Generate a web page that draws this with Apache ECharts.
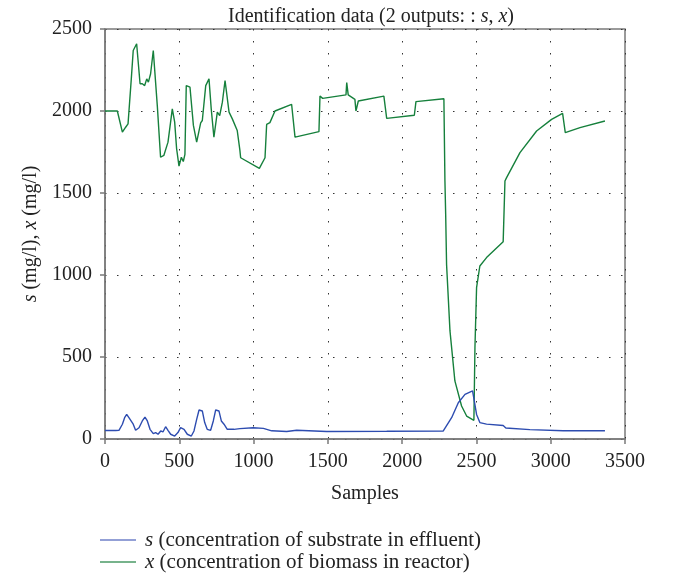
<!DOCTYPE html>
<html>
<head>
<meta charset="utf-8">
<script src="https://cdn.jsdelivr.net/npm/echarts@6/dist/echarts.min.js"></script>
<style>
  html, body { margin: 0; padding: 0; background: #fff; }
  #chart { width: 673px; height: 581px; }
</style>
</head>
<body>
<div id="chart"></div>
<script>
// Substrate concentration in effluent, s (mg/l)
const substrateSamples = [0, 72, 83, 94, 117, 132, 146, 161, 173, 190, 206, 229, 251, 269, 285, 303, 325, 341, 357, 375, 390, 408, 424, 442, 469, 491, 509, 532, 554, 581, 599, 617, 633, 655, 671, 688, 711, 729, 745, 767, 783, 801, 823, 868, 908, 998, 1066, 1122, 1223, 1290, 1492, 1896, 2277, 2333, 2378, 2423, 2474, 2485, 2501, 2523, 2568, 2680, 2698, 2860, 3084, 3365];
const substrateValues  = [52, 52, 63, 53, 90, 130, 150, 130, 136, 90, 53, 69, 110, 134, 110, 59, 33, 39, 29, 49, 43, 75, 53, 29, 18, 39, 69, 59, 29, 18, 49, 120, 177, 171, 100, 59, 53, 110, 177, 171, 110, 90, 59, 59, 63, 69, 65, 50, 46, 53, 46, 47, 49, 130, 221, 272, 293, 288, 150, 100, 91, 82, 67, 57, 50, 50];

// Biomass concentration in reactor, x (mg/l)
const biomassSamples = [0, 83, 94, 117, 139, 155, 168, 177, 190, 213, 236, 251, 267, 281, 292, 307, 325, 336, 352, 363, 374, 396, 424, 453, 469, 482, 498, 514, 527, 538, 547, 572, 595, 617, 644, 655, 678, 700, 715, 733, 756, 772, 790, 808, 819, 835, 857, 890, 908, 913, 1039, 1077, 1088, 1110, 1144, 1256, 1279, 1440, 1447, 1465, 1622, 1627, 1637, 1682, 1689, 1705, 1877, 1896, 2082, 2093, 2281, 2288, 2293, 2299, 2322, 2355, 2400, 2434, 2483, 2490, 2501, 2523, 2568, 2680, 2692, 2703, 2793, 2905, 3006, 3080, 3098, 3197, 3365];
const biomassValues  = [2000, 2000, 2009, 1871, 1901, 1921, 1923, 2196, 2369, 2410, 2166, 2166, 2155, 2196, 2176, 2227, 2369, 2376, 2033, 2030, 1718, 1729, 1810, 2013, 1932, 1770, 1664, 1718, 1692, 1736, 2155, 2145, 1912, 1810, 1928, 1942, 2155, 2196, 2013, 1840, 1993, 1972, 2054, 2186, 2180, 1993, 1952, 1881, 1760, 1715, 1650, 1715, 1918, 1929, 2000, 2041, 1841, 1874, 2091, 2077, 2098, 2173, 2098, 2071, 2000, 2061, 2091, 1955, 1974, 2057, 2075, 1573, 1370, 1065, 659, 354, 201, 140, 114, 557, 923, 1055, 1106, 1203, 1573, 1594, 1746, 1878, 1949, 1986, 1868, 1899, 1939];

// Axis ticks
const xTicks = { min: 0, max: 3500, interval: 500 };
const yTicks = { min: 0, max: 2500, interval: 500 };

const serif = '"Liberation Serif", "DejaVu Serif", serif';
const textColor = '#222';
const axisGrey = '#7a7a7a';
const italic = { fontFamily: serif, fontStyle: 'italic', fontSize: 20, color: textColor };
const italicLegend = { fontFamily: serif, fontStyle: 'italic', fontSize: 21, color: textColor, lineHeight: 22 };

function pairs(xs, ys) {
  return xs.map((x, i) => [x, ys[i]]);
}

function axisCommon() {
  return {
    axisLine: { show: true, lineStyle: { color: axisGrey, width: 1.5 } },
    axisTick: { show: true, length: 5, lineStyle: { color: axisGrey, width: 1.5 } },
    splitLine: { show: true, lineStyle: { color: '#333', width: 1, type: [1.5, 10.5] } }
  };
}

const chart = echarts.init(document.getElementById('chart'), null, { renderer: 'canvas' });

chart.setOption({
  animation: false,
  backgroundColor: '#fff',
  title: {
    text: 'Identification data (2 outputs: : {i|s}, {i|x})',
    left: 366,
    textAlign: 'center',
    top: 2,
    textStyle: {
      fontFamily: serif,
      fontWeight: 'normal',
      fontSize: 20,
      color: textColor,
      rich: { i: italic }
    }
  },
  grid: {
    left: 105,
    right: 48,
    top: 29,
    bottom: 142,
    show: true,
    borderColor: axisGrey,
    borderWidth: 1.5,
    backgroundColor: 'transparent'
  },
  legend: {
    orient: 'vertical',
    left: 95,
    top: 524,
    height: 80,
    itemWidth: 36,
    itemHeight: 1.6,
    itemGap: 0,
    icon: 'rect',
    textStyle: {
      fontFamily: serif,
      fontSize: 21,
      lineHeight: 22,
      color: textColor,
      padding: [0, 0, 0, 4],
      rich: { i: italicLegend }
    },
    formatter: function (name) {
      return name === 's'
        ? '{i|s} (concentration of substrate in effluent)'
        : '{i|x} (concentration of biomass in reactor)';
    },
    data: [
      { name: 's', itemStyle: { color: '#6f80c8' } },
      { name: 'x', itemStyle: { color: '#4a9a66' } }
    ]
  },
  xAxis: Object.assign(axisCommon(), {
    type: 'value',
    min: xTicks.min,
    max: xTicks.max,
    interval: xTicks.interval,
    name: 'Samples',
    nameLocation: 'middle',
    nameGap: 45,
    nameTextStyle: { fontFamily: serif, fontSize: 20, color: textColor },
    axisLabel: {
      fontFamily: serif, fontSize: 20, color: textColor, margin: 13,
      formatter: v => String(v)
    }
  }),
  yAxis: Object.assign(axisCommon(), {
    type: 'value',
    min: yTicks.min,
    max: yTicks.max,
    interval: yTicks.interval,
    name: '{i|s} (mg/l), {i|x} (mg/l)',
    nameLocation: 'middle',
    nameRotate: 90,
    nameGap: 60,
    nameTextStyle: { fontFamily: serif, fontSize: 20, color: textColor, rich: { i: italic } },
    axisLabel: {
      fontFamily: serif, fontSize: 20, color: textColor, margin: 13,
      formatter: v => String(v)
    }
  }),
  series: [
    {
      name: 's',
      type: 'line',
      symbol: 'none',
      data: pairs(substrateSamples, substrateValues),
      lineStyle: { color: '#2d4cb0', width: 1.4 },
      itemStyle: { color: '#2d4cb0' },
      z: 3
    },
    {
      name: 'x',
      type: 'line',
      symbol: 'none',
      data: pairs(biomassSamples, biomassValues),
      lineStyle: { color: '#16803c', width: 1.4 },
      itemStyle: { color: '#16803c' },
      z: 2
    }
  ]
});
</script>
</body>
</html>
